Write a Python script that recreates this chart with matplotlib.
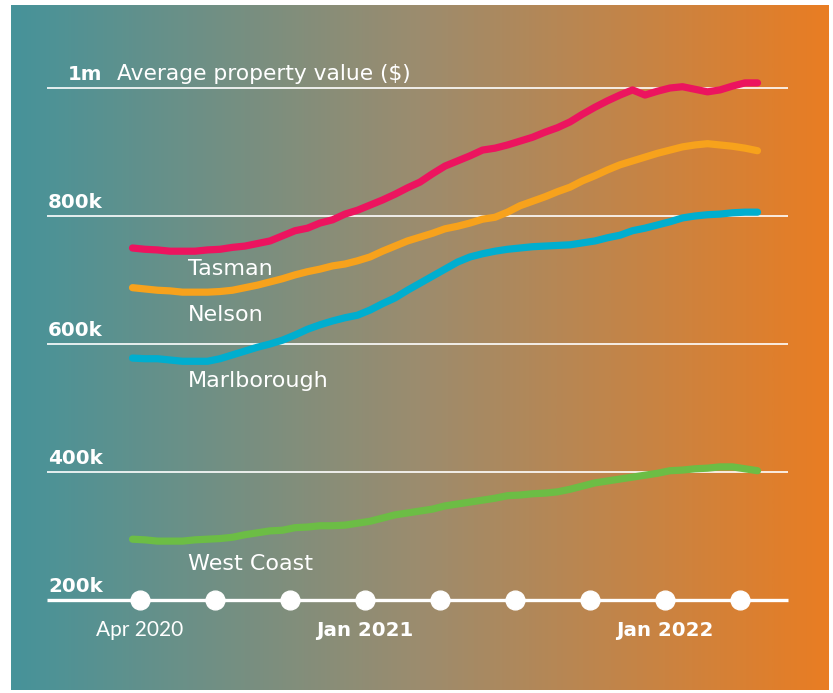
import numpy as np
import matplotlib
matplotlib.use("Agg")
import matplotlib.pyplot as plt
from matplotlib.colors import LinearSegmentedColormap

plt.rcParams['font.family'] = ['DejaVu Sans']

# months since Apr 2020 (half-month sampling)
months = np.arange(-0.3, 25.0, 0.5)

tasman = [750, 748, 747, 745, 745, 745, 747, 748, 751, 753,
          757, 761, 769, 777, 781, 789, 794, 803, 809, 817,
          825, 834, 844, 853, 866, 878, 886, 894, 903, 906,
          911, 917, 923, 931, 938, 947, 959, 970, 980, 989,
          997, 989, 995, 1000, 1002, 998, 994, 997, 1003, 1008,
          1008]
nelson = [688, 686, 684, 683, 681, 681, 681, 682, 684, 688,
          692, 697, 702, 708, 713, 717, 722, 725, 730, 736,
          745, 753, 761, 767, 773, 780, 784, 789, 795, 798,
          806, 816, 823, 830, 838, 845, 855, 863, 872, 880,
          886, 892, 898, 903, 908, 911, 913, 911, 909, 906,
          902]
marlborough = [578, 577, 577, 575, 573, 573, 573, 577, 583, 589,
               595, 600, 606, 614, 623, 630, 636, 641, 645, 653,
               663, 672, 684, 695, 706, 717, 728, 736, 741, 745,
               748, 750, 752, 753, 754, 755, 758, 761, 766, 770,
               777, 781, 786, 791, 797, 800, 802, 803, 805, 806,
               806]
west_coast = [295, 294, 292, 292, 292, 294, 295, 296, 298, 302,
              305, 308, 309, 313, 314, 316, 316, 317, 320, 323,
              328, 333, 336, 339, 342, 347, 350, 353, 356, 359,
              363, 364, 366, 367, 369, 373, 378, 383, 386, 389,
              392, 395, 398, 402, 403, 405, 406, 408, 408, 405,
              402]

series_names = ["Tasman", "Nelson", "Marlborough", "West Coast"]
series_colors = ["#EC145F", "#F7A21C", "#00AECF", "#6CBD45"]
label_y = [708, 636, 533, 247]

y_ticks = [1000, 800, 600, 400, 200]
y_tick_labels = ["1m", "800k", "600k", "400k", "200k"]

x_dots = [0, 3, 6, 9, 12, 15, 18, 21, 24]
x_labels = [(0, "Apr 2020", "normal"), (9, "Jan 2021", "bold"), (21, "Jan 2022", "bold")]

W, H = 833, 693
fig = plt.figure(figsize=(W / 100, H / 100), dpi=100)
fig.patch.set_facecolor("white")

left_px, right_px, top_px, bot_px = 11, 829, 5, 690
ax = fig.add_axes([left_px / W, (H - bot_px) / H, (right_px - left_px) / W, (bot_px - top_px) / H])
x0 = (left_px - 140) / 25
x1 = (right_px - 140) / 25
y0 = 1000 - (bot_px - 88) * 1.5625
y1 = 1000 + (88 - top_px) * 1.5625
ax.set_xlim(x0, x1)
ax.set_ylim(y0, y1)
ax.axis("off")

cmap = LinearSegmentedColormap.from_list("bg", ["#46939A", "#9C8C6E", "#E97D23"])
grad = np.linspace(0, 1, 512).reshape(1, -1)
ax.imshow(grad, cmap=cmap, aspect="auto", extent=[x0, x1, y0, y1], zorder=0)

gx0 = (47 - 140) / 25
gx1 = (788 - 140) / 25
for v in y_ticks:
    lw = 2.4 if v == 200 else 1.2
    ax.plot([gx0, gx1], [v, v], color="white", lw=lw, zorder=1, solid_capstyle="butt")

ax.plot(x_dots, [200] * len(x_dots), "o", color="white", ms=13.5, zorder=2)

for name, vals, col in zip(series_names, [tasman, nelson, marlborough, west_coast], series_colors):
    ax.plot(months, vals, color=col, lw=5.2, solid_capstyle="round", solid_joinstyle="round", zorder=3)

for name, ly in zip(series_names, label_y):
    ax.text((188 - 140) / 25, ly, name, color="white", fontsize=16, va="baseline", ha="left", zorder=4)

for v, lab in zip(y_ticks, y_tick_labels):
    xs = (68 - 140) / 25 if lab == "1m" else (48 - 140) / 25
    ax.text(xs, v + 12.5, lab, color="white", fontsize=14.3, fontweight="bold", va="baseline", ha="left", zorder=4)
ax.text((117 - 140) / 25, 1000 + 12.5, "Average property value ($)", color="white", fontsize=15.7,
        va="baseline", ha="left", zorder=4)

for xm, lab, wt in x_labels:
    if wt == "bold":
        ax.text(xm, 143.75, lab, color="white", fontsize=14.3, fontweight="bold",
                va="baseline", ha="center", zorder=4)
    else:
        ax.text(xm, 143.75, lab, color="white", fontsize=15, family=["Lato", "DejaVu Sans"],
                va="baseline", ha="center", zorder=4)

fig.savefig("out.png", dpi=100, facecolor="white")
